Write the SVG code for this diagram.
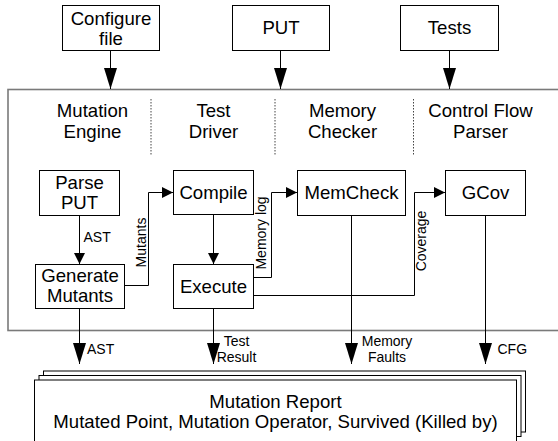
<svg xmlns="http://www.w3.org/2000/svg" width="558" height="441" viewBox="0 0 558 441">
<style>
.box{fill:#fff;stroke:#000;stroke-width:1}
.t{font-family:"Liberation Sans",Arial,sans-serif;font-size:18.6px;fill:#000;text-anchor:middle}
.s{font-family:"Liberation Sans",Arial,sans-serif;font-size:14px;fill:#000}
.c{fill:none;stroke:#000;stroke-width:1}
.div{fill:none;stroke:#444;stroke-width:1;stroke-dasharray:1.5 1.5}
</style>
<defs>
<marker id="big" markerUnits="userSpaceOnUse" markerWidth="21" markerHeight="13" refX="21" refY="6.5" orient="auto"><path d="M0,0 L21,6.5 L0,13 z" fill="#000"/></marker>
<marker id="small" markerUnits="userSpaceOnUse" markerWidth="11" markerHeight="11" refX="11" refY="5.5" orient="auto"><path d="M0,0 L11,5.5 L0,11 z" fill="#000"/></marker>
</defs>
<rect width="558" height="441" fill="#fff"/>
<g id="container">
<rect x="8" y="89.5" width="570" height="241" fill="#fff" stroke="#7a7a7a" stroke-width="1.6"/>
<line class="div" x1="151" y1="99" x2="151" y2="156"/>
<line class="div" x1="275" y1="99" x2="275" y2="156"/>
<line class="div" x1="413.5" y1="99" x2="413.5" y2="156"/>
<text class="t" x="92.5" y="117">Mutation</text><text class="t" x="92.5" y="138">Engine</text>
<text class="t" x="213.5" y="117">Test</text><text class="t" x="213.5" y="138">Driver</text>
<text class="t" x="342.5" y="117">Memory</text><text class="t" x="342.5" y="138">Checker</text>
<text class="t" x="480.5" y="117">Control Flow</text><text class="t" x="480.5" y="138">Parser</text>
</g>
<g id="configure"><rect class="box" x="62.5" y="5.5" width="97" height="45"/><text class="t" x="111" y="24.5">Configure</text><text class="t" x="111" y="44.5">file</text></g>
<g id="put"><rect class="box" x="232.5" y="5.5" width="97" height="45"/><text class="t" x="281" y="34">PUT</text></g>
<g id="tests"><rect class="box" x="400.5" y="5.5" width="98" height="45"/><text class="t" x="449.5" y="34">Tests</text></g>
<g id="parse"><rect class="box" x="39.5" y="170.5" width="80" height="45"/><text class="t" x="79.5" y="189">Parse</text><text class="t" x="79.5" y="209">PUT</text></g>
<g id="generate"><rect class="box" x="35.5" y="264.5" width="89" height="44"/><text class="t" x="80" y="282">Generate</text><text class="t" x="80" y="302">Mutants</text></g>
<g id="compile"><rect class="box" x="173.5" y="170.5" width="80" height="44"/><text class="t" x="213.5" y="199">Compile</text></g>
<g id="execute"><rect class="box" x="173.5" y="264.5" width="80" height="44"/><text class="t" x="213.5" y="292.5">Execute</text></g>
<g id="memcheck"><rect class="box" x="297.5" y="170.5" width="108" height="45"/><text class="t" x="351.5" y="199">MemCheck</text></g>
<g id="gcov"><rect class="box" x="445.5" y="170.5" width="80" height="45"/><text class="t" x="485.5" y="199">GCov</text></g>
<g id="connectors">
<path class="c" d="M110.5,50.5 V89" marker-end="url(#big)"/>
<path class="c" d="M280.5,50.5 V89" marker-end="url(#big)"/>
<path class="c" d="M449.5,50.5 V89" marker-end="url(#big)"/>
<path class="c" d="M79.5,215.5 V264" marker-end="url(#small)"/>
<path class="c" d="M124.5,285.5 H148.5 V192.5 H173" marker-end="url(#small)"/>
<path class="c" d="M213.5,214.5 V264" marker-end="url(#small)"/>
<path class="c" d="M253.5,277.5 H271.5 V192.5 H297" marker-end="url(#small)"/>
<path class="c" d="M253.5,295.5 H414.5 V192.5 H445" marker-end="url(#small)"/>
<path class="c" d="M79.5,308.5 V364" marker-end="url(#big)"/>
<path class="c" d="M213.5,308.5 V364" marker-end="url(#big)"/>
<path class="c" d="M351.5,215.5 V364" marker-end="url(#big)"/>
<path class="c" d="M485.5,215.5 V364" marker-end="url(#big)"/>
<text class="s" x="83.5" y="241.5">AST</text>
<text class="s" text-anchor="middle" transform="translate(145.5,242.5) rotate(-90)">Mutants</text>
<text class="s" text-anchor="middle" transform="translate(266,233) rotate(-90)">Memory log</text>
<text class="s" text-anchor="middle" transform="translate(426,241) rotate(-90)">Coverage</text>
<text class="s" x="87" y="354">AST</text>
<text class="s" text-anchor="middle" x="236.5" y="346">Test</text><text class="s" text-anchor="middle" x="236.5" y="361.5">Result</text>
<text class="s" text-anchor="middle" x="387" y="346">Memory</text><text class="s" text-anchor="middle" x="387" y="361.5">Faults</text>
<text class="s" x="497.5" y="354">CFG</text>
</g>
<g id="report">
<rect class="box" x="43.5" y="371" width="482" height="61"/>
<rect class="box" x="39" y="375.5" width="482" height="61"/>
<rect class="box" x="34.5" y="380" width="482" height="65"/>
<text class="t" x="275.5" y="407.5">Mutation Report</text>
<text class="t" x="275.5" y="427.5">Mutated Point, Mutation Operator, Survived (Killed by)</text>
</g>
</svg>
